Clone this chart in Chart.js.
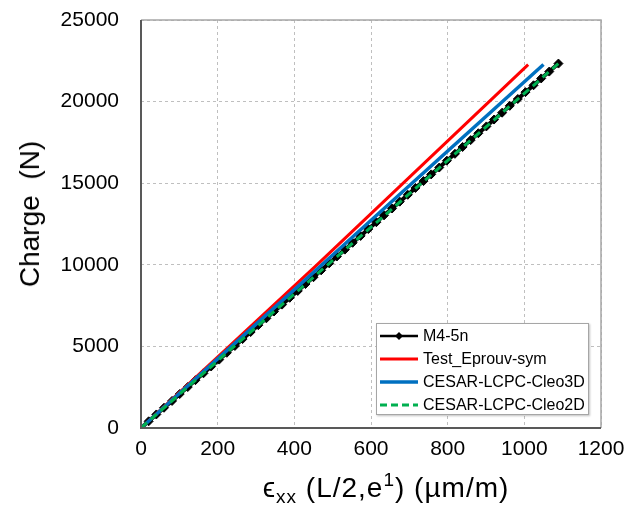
<!DOCTYPE html>
<html>
<head>
<meta charset="utf-8">
<script src="https://cdn.jsdelivr.net/npm/chart.js@4/dist/chart.umd.min.js"></script>
<style>
  html, body { margin: 0; padding: 0; background: #fff; }
  #wrap { position: relative; width: 630px; height: 510px; font-family: "Liberation Sans", Arial, sans-serif; }
  #legend { position: absolute; left: 376px; top: 323px; width: 213px; height: 92px; border: 1px solid #a6a6a6; background: #fff; box-sizing: border-box; box-shadow: 1px 1px 2px rgba(0,0,0,0.25); }
  .row { position: absolute; left: 0; height: 22px; display: flex; align-items: center; font-size: 16px; color: #000; white-space: nowrap; }
  .row svg { margin-left: 3px; margin-right: 5px; }
  #xtitle { position: absolute; left: 0; width: 772px; top: 469px; text-align: center; font-size: 28px; letter-spacing: 1px; color: #000; white-space: nowrap; }
  #xtitle sub { font-size: 19px; vertical-align: -6px; }
  #xtitle sup { font-size: 19px; vertical-align: 11px; }
  #ytitle { position: absolute; left: 30px; top: 214px; transform: translate(-50%, -50%) rotate(-90deg); font-size: 28px; color: #000; white-space: pre; }
</style>
</head>
<body>
<div id="wrap">
  <canvas id="c" width="630" height="510"></canvas>
  <div id="ytitle">Charge  (N)</div>
  <div id="xtitle">ϵ<sub>xx</sub> (L/2,e<sup>1</sup>) (µm/m)</div>
  <div id="legend">
    <div class="row" style="top:1px"><svg width="38" height="10"><line x1="0" y1="5" x2="38" y2="5" stroke="#000" stroke-width="2.5"/><polygon points="19,1 23,5 19,9 15,5" fill="#000"/></svg>M4-5n</div>
    <div class="row" style="top:24px"><svg width="38" height="10"><line x1="0" y1="5" x2="38" y2="5" stroke="#ff0000" stroke-width="3"/></svg>Test_Eprouv-sym</div>
    <div class="row" style="top:47px"><svg width="38" height="10"><line x1="0" y1="5" x2="38" y2="5" stroke="#0070c0" stroke-width="3.5"/></svg>CESAR-LCPC-Cleo3D</div>
    <div class="row" style="top:70px"><svg width="38" height="10"><line x1="0" y1="5" x2="38" y2="5" stroke="#00b050" stroke-width="3" stroke-dasharray="7,4"/></svg>CESAR-LCPC-Cleo2D</div>
  </div>
</div>
<script>
// ---- data ----
const m45nStrain = [0, 20, 40, 60, 81, 101, 122, 142, 163, 183, 204, 224, 245, 265, 286, 306, 327, 347, 368, 388, 409, 429, 450, 470, 491, 511, 532, 552, 573, 593, 614, 634, 655, 675, 696, 716, 737, 757, 778, 798, 819, 839, 860, 880, 901, 921, 942, 962, 983, 1003, 1024, 1044, 1065, 1089];
const m45nLoad   = [0, 410, 830, 1240, 1660, 2080, 2510, 2930, 3350, 3770, 4190, 4610, 5030, 5450, 5880, 6300, 6720, 7140, 7560, 7980, 8400, 8820, 9240, 9660, 10090, 10510, 10930, 11350, 11770, 12190, 12610, 13030, 13450, 13870, 14290, 14710, 15130, 15540, 15960, 16380, 16800, 17220, 17640, 18060, 18480, 18900, 19320, 19740, 20160, 20580, 21000, 21420, 21840, 22330];
const testStrain = [0, 230, 459, 684, 1010];
const testLoad   = [0, 5000, 10000, 15000, 22270];
const cleo3dStrain = [0, 236, 472, 707, 1050];
const cleo3dLoad   = [0, 5000, 10000, 15000, 22270];
const cleo2dStrain = [0, 243, 487, 732, 1089];
const cleo2dLoad   = [0, 5000, 10000, 15000, 22330];
const xTicks = [0, 200, 400, 600, 800, 1000, 1200];
const yTicks = [0, 5000, 10000, 15000, 20000, 25000];

const pts = (xs, ys) => xs.map((x, i) => ({ x: x, y: ys[i] }));

const frame = {
  id: 'frame',
  afterDraw(chart) {
    const a = chart.chartArea, ctx = chart.ctx;
    ctx.save();
    ctx.strokeStyle = '#a6a6a6';
    ctx.lineWidth = 1.5;
    ctx.beginPath();
    ctx.moveTo(a.left, a.top); ctx.lineTo(a.right, a.top); ctx.lineTo(a.right, a.bottom);
    ctx.stroke();
    ctx.strokeStyle = '#595959';
    ctx.lineWidth = 2;
    ctx.beginPath();
    ctx.moveTo(a.left, a.top); ctx.lineTo(a.left, a.bottom); ctx.lineTo(a.right, a.bottom);
    ctx.stroke();
    ctx.restore();
  }
};

const tickFont = { family: '"Liberation Sans", Arial, sans-serif', size: 21 };
const plain = v => String(v);

new Chart(document.getElementById('c'), {
  type: 'scatter',
  data: {
    datasets: [
      { label: 'CESAR-LCPC-Cleo2D', data: pts(cleo2dStrain, cleo2dLoad), showLine: true, borderColor: '#00b050', borderWidth: 3, borderDash: [8, 5], pointRadius: 0, order: 1 },
      { label: 'CESAR-LCPC-Cleo3D', data: pts(cleo3dStrain, cleo3dLoad), showLine: true, borderColor: '#0070c0', borderWidth: 3.5, pointRadius: 0, order: 2 },
      { label: 'Test_Eprouv-sym', data: pts(testStrain, testLoad), showLine: true, borderColor: '#ff0000', borderWidth: 3, pointRadius: 0, order: 3 },
      { label: 'M4-5n', data: pts(m45nStrain, m45nLoad), showLine: true, borderColor: '#000', borderWidth: 4, pointStyle: 'rectRot', pointRadius: 4.5, pointBackgroundColor: '#000', pointBorderColor: '#000', pointBorderWidth: 1, order: 4 }
    ]
  },
  options: {
    responsive: false,
    animation: false,
    layout: { padding: { left: 0, right: 29, top: 20, bottom: 40 } },
    plugins: { legend: { display: false }, tooltip: { enabled: false } },
    scales: {
      x: {
        type: 'linear', min: 0, max: 1200,
        afterBuildTicks: s => { s.ticks = xTicks.map(v => ({ value: v })); },
        afterFit: s => { s.height = 42; s.paddingLeft = 0; s.paddingRight = 0; },
        grid: { color: '#bfbfbf', lineWidth: 1, drawTicks: false },
        border: { display: false, dash: [3, 3] },
        ticks: { color: '#000', font: tickFont, padding: 9, maxRotation: 0, callback: plain }
      },
      y: {
        type: 'linear', min: 0, max: 25000,
        afterBuildTicks: s => { s.ticks = yTicks.map(v => ({ value: v })); },
        afterFit: s => { s.width = 141; s.paddingTop = 0; s.paddingBottom = 0; },
        grid: { color: '#bfbfbf', lineWidth: 1, drawTicks: false },
        border: { display: false, dash: [3, 3] },
        ticks: { color: '#000', font: tickFont, padding: 22, callback: plain }
      }
    }
  },
  plugins: [frame]
});
</script>
</body>
</html>
